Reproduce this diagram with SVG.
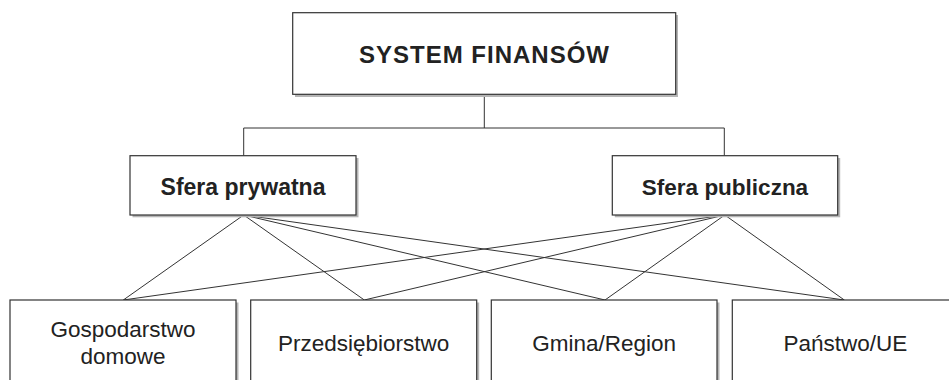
<svg xmlns="http://www.w3.org/2000/svg" width="949" height="380" viewBox="0 0 949 380">
<style>
.box{fill:#fff;stroke:#333;stroke-width:1.2}
.sh{fill:#b5b5b5}
.t{font-family:"Liberation Sans",Arial,sans-serif;fill:#222;text-anchor:middle}
.b{font-weight:bold}
.c{stroke:#333;stroke-width:1;fill:none}
</style>
<rect width="949" height="380" fill="#fff"/>
<g id="connectors">
<path class="c" d="M484.3 94.3V128M243.7 128H724.3M243.7 128V155.7M724.3 128V155.7"/>
<path class="c" d="M243.7 215L123.3 300M243.7 215L364.3 300M243.7 215L605 300M243.7 215L844.3 300"/>
<path class="c" d="M724.8 215L123.3 300M724.8 215L364.3 300M724.8 215L605 300M724.8 215L844.3 300"/>
</g>
<g id="system">
<rect class="sh" x="295" y="15" width="383" height="82"/>
<rect class="box" x="292.7" y="12.7" width="383" height="81.6"/>
<text class="t b" x="484.5" y="63.3" font-size="24" letter-spacing="1">SYSTEM FINANSÓW</text>
</g>
<g id="prywatna">
<rect class="sh" x="132.5" y="158" width="226" height="59.3"/>
<rect class="box" x="130" y="155.7" width="226" height="59.3"/>
<text class="t b" x="243" y="195" font-size="23">Sfera prywatna</text>
</g>
<g id="publiczna">
<rect class="sh" x="614.8" y="158" width="225.4" height="59.3"/>
<rect class="box" x="612.3" y="155.7" width="225.4" height="59.3"/>
<text class="t b" x="725" y="195" font-size="22.5">Sfera publiczna</text>
</g>
<g id="gospodarstwo">
<rect class="sh" x="12.5" y="302.5" width="226" height="100"/>
<rect class="box" x="10" y="300" width="226" height="100"/>
<text class="t" x="123" y="336.7" font-size="22.5">Gospodarstwo</text>
<text class="t" x="123" y="364.3" font-size="22.5">domowe</text>
</g>
<g id="przedsiebiorstwo">
<rect class="sh" x="253.2" y="302.5" width="226" height="100"/>
<rect class="box" x="250.7" y="300" width="226" height="100"/>
<text class="t" x="363.7" y="351" font-size="22.5">Przedsiębiorstwo</text>
</g>
<g id="gmina">
<rect class="sh" x="493.8" y="302.5" width="225.7" height="100"/>
<rect class="box" x="491.3" y="300" width="225.7" height="100"/>
<text class="t" x="604.2" y="351" font-size="22.5">Gmina/Region</text>
</g>
<g id="panstwo">
<rect class="sh" x="734.8" y="302.5" width="226" height="100"/>
<rect class="box" x="732.3" y="300" width="226" height="100"/>
<text class="t" x="845.3" y="351" font-size="22.5">Państwo/UE</text>
</g>
</svg>
